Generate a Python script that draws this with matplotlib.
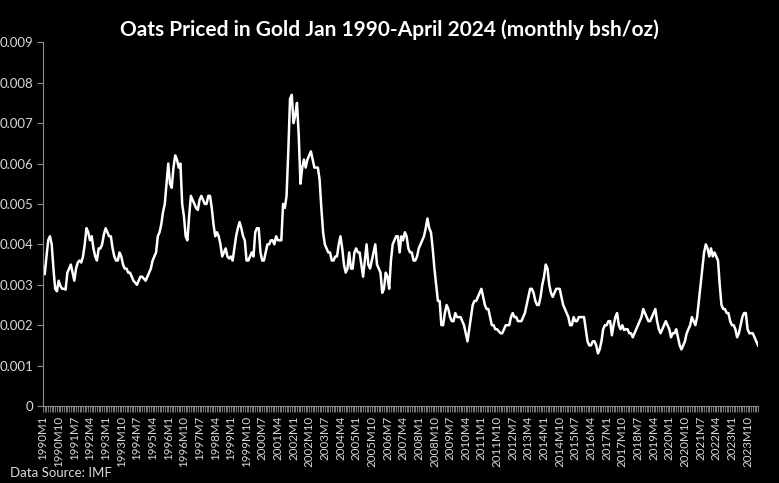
import matplotlib
matplotlib.use("Agg")
import matplotlib.pyplot as plt
import numpy as np

# Monthly oats price in gold (bushels per troy ounce), Jan 1990 - Apr 2024
# One row per year
oats_in_gold = [
    0.00346, 0.00326, 0.0037, 0.0041, 0.0042, 0.0040, 0.0034, 0.0029, 0.00284, 0.0031, 0.00297, 0.0029,   # 1990
    0.0029, 0.00288, 0.0033, 0.0034, 0.0035, 0.0033, 0.0031, 0.0034, 0.00355, 0.0036, 0.00355, 0.0037,    # 1991
    0.0040, 0.0044, 0.0043, 0.0041, 0.0042, 0.0039, 0.0037, 0.0036, 0.0039, 0.0039, 0.0040, 0.00425,      # 1992
    0.0044, 0.0043, 0.0042, 0.0042, 0.0039, 0.0037, 0.0036, 0.0036, 0.0038, 0.0037, 0.0035, 0.0034,       # 1993
    0.0034, 0.0033, 0.0033, 0.0032, 0.0031, 0.00305, 0.0030, 0.0031, 0.0032, 0.0032, 0.00315, 0.0031,     # 1994
    0.0032, 0.0033, 0.0034, 0.0036, 0.0037, 0.0038, 0.0042, 0.0043, 0.0045, 0.0048, 0.0050, 0.0055,       # 1995
    0.0060, 0.0055, 0.0054, 0.0059, 0.0062, 0.0061, 0.0059, 0.0060, 0.0050, 0.0047, 0.0042, 0.0041,       # 1996
    0.0047, 0.0052, 0.0051, 0.0050, 0.0049, 0.00485, 0.0051, 0.0052, 0.0051, 0.0050, 0.0050, 0.0052,      # 1997
    0.0052, 0.0049, 0.0045, 0.0042, 0.0043, 0.0042, 0.0040, 0.0037, 0.0038, 0.0039, 0.0037, 0.00365,      # 1998
    0.0037, 0.0036, 0.0039, 0.0042, 0.0044, 0.00455, 0.0044, 0.0042, 0.0041, 0.0036, 0.0036, 0.0037,      # 1999
    0.0038, 0.0037, 0.0043, 0.0044, 0.0044, 0.0038, 0.0036, 0.0036, 0.0038, 0.0040, 0.0040, 0.0041,       # 2000
    0.0041, 0.0040, 0.0042, 0.0041, 0.0041, 0.0041, 0.0050, 0.0049, 0.0052, 0.0063, 0.0076, 0.0077,       # 2001
    0.0070, 0.0072, 0.0075, 0.0067, 0.0055, 0.0059, 0.0061, 0.0059, 0.0061, 0.0062, 0.0063, 0.0061,       # 2002
    0.0059, 0.0059, 0.0059, 0.0056, 0.0049, 0.0043, 0.0040, 0.0039, 0.0038, 0.0038, 0.0036, 0.0036,       # 2003
    0.0037, 0.0037, 0.0040, 0.0042, 0.0039, 0.0035, 0.0033, 0.0034, 0.0038, 0.0034, 0.0034, 0.0038,       # 2004
    0.0039, 0.0038, 0.0038, 0.0035, 0.0032, 0.0036, 0.0040, 0.0035, 0.0034, 0.0036, 0.0038, 0.0040,       # 2005
    0.0035, 0.0034, 0.0033, 0.0028, 0.0029, 0.0033, 0.0032, 0.0029, 0.0036, 0.0040, 0.0041, 0.0042,       # 2006
    0.0042, 0.0038, 0.0042, 0.0041, 0.0043, 0.0042, 0.0039, 0.0038, 0.0038, 0.0036, 0.0036, 0.0037,       # 2007
    0.0039, 0.0040, 0.0041, 0.0042, 0.0044, 0.00464, 0.0044, 0.0043, 0.0039, 0.0034, 0.0030, 0.0026,      # 2008
    0.0026, 0.0020, 0.0020, 0.0023, 0.0025, 0.0024, 0.0022, 0.0021, 0.0021, 0.0023, 0.0022, 0.0022,       # 2009
    0.0022, 0.0021, 0.0020, 0.0018, 0.0016, 0.0019, 0.0022, 0.0025, 0.0026, 0.0026, 0.0027, 0.0028,       # 2010
    0.0029, 0.0027, 0.0025, 0.0024, 0.0024, 0.0022, 0.0020, 0.0020, 0.0019, 0.0019, 0.00185, 0.0018,      # 2011
    0.0018, 0.0019, 0.0020, 0.0020, 0.0020, 0.0022, 0.0023, 0.0022, 0.0022, 0.0021, 0.0021, 0.0021,       # 2012
    0.0022, 0.0023, 0.0025, 0.0027, 0.0029, 0.0029, 0.0028, 0.0026, 0.0025, 0.0025, 0.0027, 0.0030,       # 2013
    0.0032, 0.0035, 0.0034, 0.0030, 0.0028, 0.0027, 0.0028, 0.0029, 0.0029, 0.0029, 0.0027, 0.0025,       # 2014
    0.0024, 0.0023, 0.0022, 0.0020, 0.0020, 0.0022, 0.0021, 0.0021, 0.0022, 0.0022, 0.0022, 0.0022,       # 2015
    0.0019, 0.0016, 0.0015, 0.0015, 0.0016, 0.0016, 0.0015, 0.0013, 0.0014, 0.0016, 0.0019, 0.0020,       # 2016
    0.0020, 0.0021, 0.0021, 0.00175, 0.0020, 0.0022, 0.0023, 0.0020, 0.0019, 0.0020, 0.00188, 0.0019,     # 2017
    0.0019, 0.0018, 0.0018, 0.0017, 0.0018, 0.0019, 0.0020, 0.0021, 0.0022, 0.0024, 0.0023, 0.0022,       # 2018
    0.0021, 0.0021, 0.0022, 0.0023, 0.0024, 0.0021, 0.0019, 0.0018, 0.0019, 0.0020, 0.0021, 0.0020,       # 2019
    0.0019, 0.0017, 0.0018, 0.0018, 0.0019, 0.0017, 0.0015, 0.0014, 0.0015, 0.0016, 0.0018, 0.0019,       # 2020
    0.0020, 0.0022, 0.0021, 0.0020, 0.0022, 0.0026, 0.0030, 0.0034, 0.0038, 0.0040, 0.0039, 0.0037,       # 2021
    0.0039, 0.0037, 0.0038, 0.0037, 0.0036, 0.0030, 0.0025, 0.0024, 0.0024, 0.0023, 0.0023, 0.0021,       # 2022
    0.0020, 0.0020, 0.0019, 0.0017, 0.0018, 0.0020, 0.0022, 0.0023, 0.0023, 0.0019, 0.0018, 0.0018,       # 2023
    0.0018, 0.0017, 0.0016, 0.0015,                                                                       # 2024
]

first_year = 1990
label_step = 9  # a category label every 9 months
y_ticks = [0, 0.001, 0.002, 0.003, 0.004, 0.005, 0.006, 0.007, 0.008, 0.009]
y_tick_labels = ["0", "0.001", "0.002", "0.003", "0.004", "0.005", "0.006", "0.007", "0.008", "0.009"]
title = "Oats Priced in Gold Jan 1990-April 2024 (monthly bsh/oz)"
source_note = "Data Source: IMF"

# Category names like 1990M1, 1990M2, ...
month_labels = [f"{first_year + i // 12}M{i % 12 + 1}" for i in range(len(oats_in_gold))]

plt.rcParams['font.family'] = ['Lato', 'DejaVu Sans']
axis_grey = '#8c8c8c'
text_col = '#d9d9d9'

fig = plt.figure(figsize=(7.79, 4.83), dpi=100, facecolor='black')
ax = fig.add_axes([43 / 779, 77 / 483, (758 - 43) / 779, (406 - 42.3) / 483])
ax.set_facecolor('black')

x = np.arange(len(oats_in_gold))
ax.plot(x, oats_in_gold, color='white', linewidth=1.8, solid_joinstyle='round')

# Value axis
ax.set_ylim(0, 0.009)
ax.set_yticks(y_ticks)
ax.set_yticklabels(y_tick_labels, color=text_col, fontsize=9.5)
ax.tick_params(axis='y', colors=axis_grey, length=4, width=0.8, labelcolor=text_col, pad=3)

# Category axis: tick per month, label every 9 months
ax.set_xlim(0, len(oats_in_gold) - 1)
ax.set_xticks(x, minor=True)
ax.set_xticks(x[::label_step])
ax.set_xticklabels(month_labels[::label_step], rotation=90, fontsize=8.3, color=text_col)
ax.tick_params(axis='x', which='both', colors=axis_grey, length=4, width=0.6, labelcolor=text_col, pad=3)

for side in ['top', 'right']:
    ax.spines[side].set_visible(False)
for side in ['left', 'bottom']:
    ax.spines[side].set_color(axis_grey)
    ax.spines[side].set_linewidth(0.8)

fig.text(0.5, 1 - 30 / 483, title, ha='center', va='center', color='white', fontsize=15, fontweight='bold')
fig.text(10 / 779, 1 - 473 / 483, source_note, ha='left', va='center', color=text_col, fontsize=9.5)

fig.savefig('out.png', dpi=100, facecolor='black')
